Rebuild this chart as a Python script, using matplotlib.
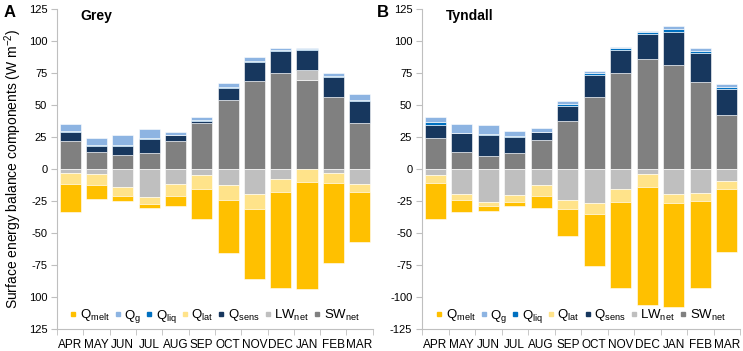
import matplotlib
matplotlib.use("Agg")
import matplotlib.pyplot as plt
from matplotlib.lines import Line2D
import numpy as np

plt.rcParams['font.family'] = ['Liberation Sans', 'DejaVu Sans']
plt.rcParams['mathtext.fontset'] = 'custom'
plt.rcParams['mathtext.rm'] = 'Liberation Sans'

months = ["APR", "MAY", "JUN", "JUL", "AUG", "SEP", "OCT", "NOV", "DEC", "JAN", "FEB", "MAR"]

# Grey glacier (W m-2)
grey_sw = [21.5, 13.6, 10.5, 12.6, 21.5, 36.1, 53.9, 68.6, 74.6, 69.1, 55.8, 35.6]
grey_lw = [-3.4, -4.2, -14.1, -22.1, -11.7, -4.4, -12.8, -19.3, -8.1, 8.4, -3.1, -11.7]
grey_lat = [-8.3, -8.6, -7.0, -5.0, -9.4, -11.5, -11.7, -12.0, -10.1, -10.2, -7.6, -6.5]
grey_sens = [7.3, 4.5, 7.6, 10.7, 4.7, 1.3, 9.5, 14.9, 17.5, 15.4, 15.9, 17.3]
grey_liq = [1.0, 0.3, 0.3, 0.5, 0.5, 1.1, 0.7, 1.1, 1.1, 1.1, 1.1, 0.8]
grey_g = [5.3, 5.8, 7.9, 7.6, 2.4, 2.1, 2.7, 2.6, 1.3, 0.8, 2.1, 4.7]
grey_melt = [-22.2, -10.6, -3.9, -3.1, -7.5, -23.2, -40.9, -54.6, -75.0, -83.6, -62.7, -38.8]

# Tyndall glacier (W m-2)
tyn_sw = [23.8, 13.4, 9.9, 12.6, 22.5, 37.4, 55.8, 74.6, 85.6, 81.4, 68.1, 41.9]
tyn_lw = [-4.4, -19.3, -25.5, -20.3, -12.2, -24.2, -26.3, -15.4, -3.9, -19.3, -19.0, -9.4]
tyn_lat = [-6.8, -4.7, -3.7, -5.2, -8.9, -7.3, -8.6, -10.6, -9.9, -7.0, -6.0, -6.2]
tyn_sens = [10.8, 14.3, 16.5, 12.5, 6.0, 12.1, 17.5, 18.6, 19.9, 25.4, 22.5, 20.7]
tyn_liq = [1.8, 0.6, 0.6, 0.6, 0.6, 1.5, 1.3, 1.0, 1.3, 2.6, 1.8, 1.5]
tyn_g = [3.9, 6.8, 7.0, 3.9, 2.8, 2.4, 2.1, 0.8, 1.1, 2.1, 2.1, 2.4]
tyn_melt = [-27.9, -9.9, -3.6, -3.1, -9.6, -20.6, -40.9, -67.2, -92.5, -81.5, -67.7, -49.0]

colors = {
    "melt": "#FFC000", "g": "#8DB4E2", "liq": "#0070C0", "lat": "#FFE38A",
    "sens": "#17375E", "lw": "#BFBFBF", "sw": "#808080",
}
legend_labels = [("melt", "Q$_{\\mathregular{melt}}$"), ("g", "Q$_{\\mathregular{g}}$"),
                 ("liq", "Q$_{\\mathregular{liq}}$"), ("lat", "Q$_{\\mathregular{lat}}$"),
                 ("sens", "Q$_{\\mathregular{sens}}$"), ("lw", "LW$_{\\mathregular{net}}$"),
                 ("sw", "SW$_{\\mathregular{net}}$")]

spine_c = "#BFBFBF"


def draw(ax, comps, title, ylabels):
    x = np.arange(len(months))
    pos = np.zeros(len(months))
    neg = np.zeros(len(months))
    # stacking order: SW, LW, Qlat, Qsens, Qliq, Qg, Qmelt
    for key, vals in comps:
        v = np.array(vals)
        base = np.where(v >= 0, pos, neg)
        ax.bar(x, v, 0.8, bottom=base, color=colors[key], edgecolor="white", linewidth=0.4)
        pos = pos + np.where(v >= 0, v, 0)
        neg = neg + np.where(v < 0, v, 0)
    ax.set_xlim(-0.5, len(months) - 0.5)
    ax.set_ylim(-125, 125)
    ax.set_yticks(np.arange(-125, 126, 25))
    ax.set_yticklabels(ylabels, fontsize=8)
    ax.set_xticks(x)
    ax.set_xticklabels(months, fontsize=8.5)
    ax.set_xticks(np.arange(-0.5, len(months), 1), minor=True)
    ax.tick_params(axis="x", which="major", length=0, pad=7)
    ax.tick_params(axis="x", which="minor", length=4, color=spine_c)
    ax.tick_params(axis="y", length=4, color=spine_c, pad=3)
    for s in ["top", "right"]:
        ax.spines[s].set_visible(False)
    for s in ["left", "bottom"]:
        ax.spines[s].set_color(spine_c)
    ax.text(0.075, 0.978, title, transform=ax.transAxes, fontsize=10,
            fontweight="bold", va="center", ha="left")
    handles = [Line2D([], [], marker="s", linestyle="none", markersize=3.5,
                      color=colors[k]) for k, _ in legend_labels]
    ax.legend(handles, [l for _, l in legend_labels], loc="lower center",
              bbox_to_anchor=(0.5, -0.015), ncol=7, frameon=False, fontsize=9.5,
              handlelength=0.5, handletextpad=0.25, columnspacing=0.35,
              borderpad=0.2)


fig = plt.figure(figsize=(7.43, 3.51), dpi=100)
axA = fig.add_axes([0.0767, 0.0627, 0.425, 0.912])
axB = fig.add_axes([0.568, 0.0627, 0.428, 0.912])

labelsA = ["125", "100", "-75", "-50", "-25", "0", "25", "50", "75", "100", "125"]
labelsB = ["-125", "-100", "-75", "-50", "-25", "0", "25", "50", "75", "100", "125"]

draw(axA, [("sw", grey_sw), ("lw", grey_lw), ("lat", grey_lat), ("sens", grey_sens),
           ("liq", grey_liq), ("g", grey_g), ("melt", grey_melt)], "Grey", labelsA)
draw(axB, [("sw", tyn_sw), ("lw", tyn_lw), ("lat", tyn_lat), ("sens", tyn_sens),
           ("liq", tyn_liq), ("g", tyn_g), ("melt", tyn_melt)], "Tyndall", labelsB)

fig.text(0.005, 0.965, "A", fontsize=12, fontweight="bold", va="center")
fig.text(0.507, 0.965, "B", fontsize=12, fontweight="bold", va="center")
fig.text(0.018, 0.518, "Surface energy balance components (W m$^{\\mathregular{-2}}$)",
         rotation=90, fontsize=10, va="center", ha="center")

fig.savefig("out.png", dpi=100)
